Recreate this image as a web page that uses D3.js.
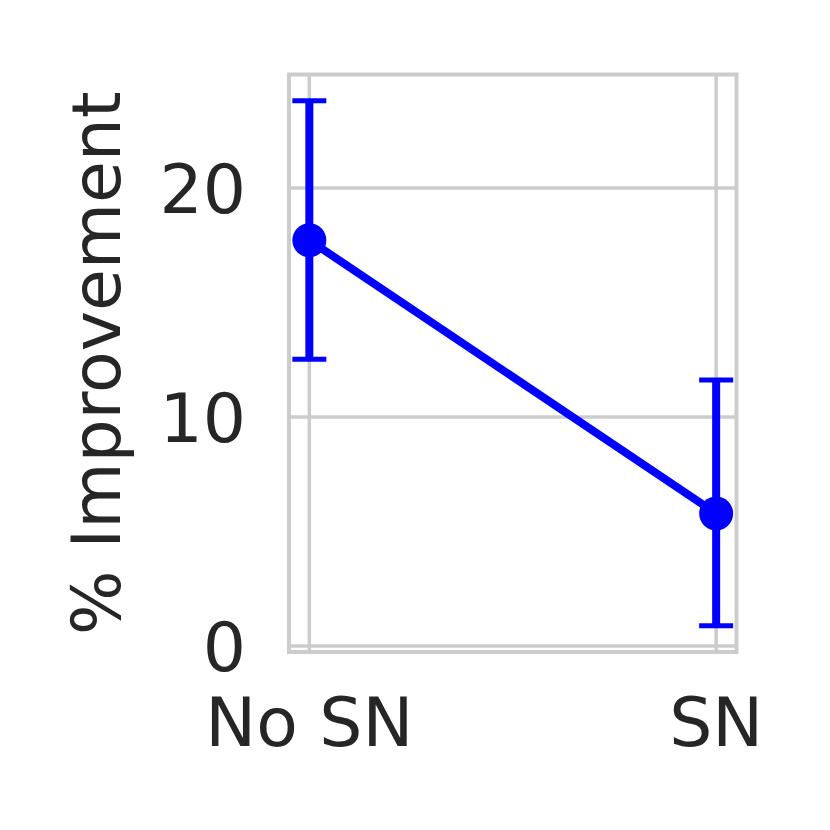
<!DOCTYPE html>
<html lang="en">
<head>
<meta charset="utf-8">
<title>% Improvement</title>
<script src="https://cdn.jsdelivr.net/npm/d3@7"></script>
<style>
  body { margin: 0; background: #fff; }
  text { font-family: "DejaVu Sans", sans-serif; fill: #262626; }
</style>
</head>
<body>
<svg id="chart" width="830" height="830"></svg>
<script>
// data
var categories = ["No SN", "SN"];
var means = [17.72, 5.79];
var lower = [12.52, 0.89];
var upper = [23.81, 11.62];
var yTicks = [0, 10, 20];

var svg = d3.select("#chart"),
    plotLeft = 289, plotRight = 736.5, plotTop = 74.5, plotBottom = 652,
    fontSize = 68;

var x = d3.scaleLinear().domain([-0.05, 1.05]).range([plotLeft, plotRight]);
var y = d3.scaleLinear().domain([-0.26, 24.96]).range([plotBottom, plotTop]);

var idx = categories.map(function (d, i) { return i; });

// grid
svg.append("g").selectAll("line").data(yTicks).join("line")
  .attr("x1", plotLeft).attr("x2", plotRight)
  .attr("y1", function (d) { return y(d); }).attr("y2", function (d) { return y(d); })
  .attr("stroke", "#cccccc").attr("stroke-width", 3.5);
svg.append("g").selectAll("line").data(idx).join("line")
  .attr("x1", function (d) { return x(d); }).attr("x2", function (d) { return x(d); })
  .attr("y1", plotTop).attr("y2", plotBottom)
  .attr("stroke", "#cccccc").attr("stroke-width", 3.5);

// frame
svg.append("rect")
  .attr("x", plotLeft).attr("y", plotTop)
  .attr("width", plotRight - plotLeft).attr("height", plotBottom - plotTop)
  .attr("fill", "none").attr("stroke", "#cccccc").attr("stroke-width", 4);

// tick labels
svg.append("g").selectAll("text").data(yTicks).join("text")
  .attr("x", 246).attr("y", function (d) { return y(d); })
  .attr("dy", "0.36em")
  .attr("text-anchor", "end")
  .attr("font-size", fontSize)
  .text(function (d) { return d; });

svg.append("g").selectAll("text").data(idx).join("text")
  .attr("x", function (d) { return x(d); }).attr("y", 746)
  .attr("text-anchor", "middle")
  .attr("font-size", fontSize)
  .text(function (d) { return categories[d]; });

svg.append("text")
  .attr("transform", "translate(120," + (plotTop + plotBottom) / 2 + ") rotate(-90)")
  .attr("text-anchor", "middle")
  .attr("font-size", fontSize)
  .text("% Improvement");

// error bars
var eb = svg.append("g").attr("stroke", "#0000ff");
eb.append("g").selectAll("line").data(idx).join("line")
  .attr("x1", function (d) { return x(d); }).attr("x2", function (d) { return x(d); })
  .attr("y1", function (d) { return y(lower[d]); }).attr("y2", function (d) { return y(upper[d]); })
  .attr("stroke-width", 8);
[lower, upper].forEach(function (arr) {
  eb.append("g").selectAll("line").data(idx).join("line")
    .attr("x1", function (d) { return x(d) - 17; }).attr("x2", function (d) { return x(d) + 17; })
    .attr("y1", function (d) { return y(arr[d]); }).attr("y2", function (d) { return y(arr[d]); })
    .attr("stroke-width", 5);
});

// connecting line + markers
var line = d3.line()
  .x(function (d) { return x(d); })
  .y(function (d) { return y(means[d]); });
svg.append("path").datum(idx)
  .attr("d", line)
  .attr("fill", "none").attr("stroke", "#0000ff").attr("stroke-width", 8);
svg.append("g").selectAll("circle").data(idx).join("circle")
  .attr("cx", function (d) { return x(d); })
  .attr("cy", function (d) { return y(means[d]); })
  .attr("r", 17)
  .attr("fill", "#0000ff");
</script>
</body>
</html>
